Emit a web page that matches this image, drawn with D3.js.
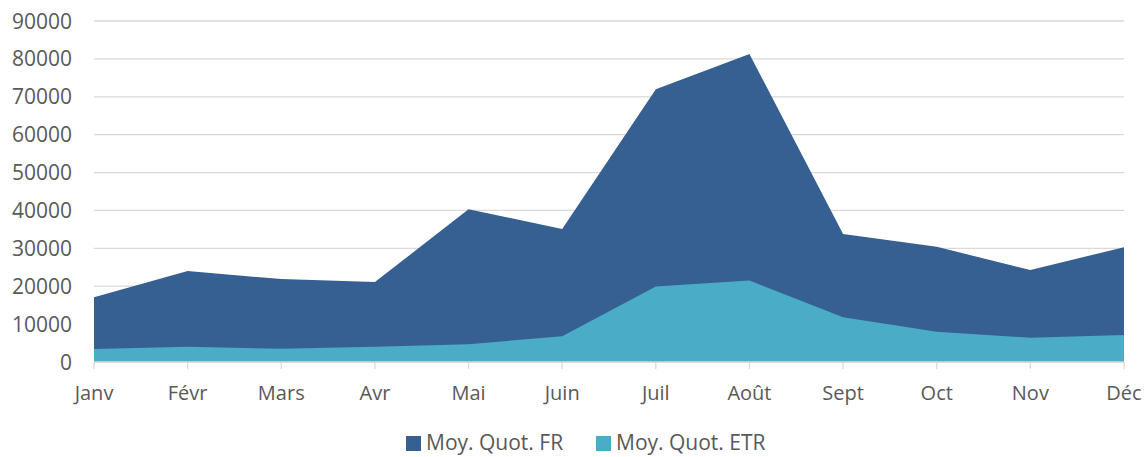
<!DOCTYPE html>
<html>
<head>
<meta charset="utf-8">
<script src="https://cdn.jsdelivr.net/npm/d3@7"></script>
<style>
  body { margin: 0; background: #fff; }
  text { font-family: "Open Sans", sans-serif; fill: #595959; }
</style>
</head>
<body>
<div id="chart"></div>
<script>
// Data
var months = ['Janv', 'Févr', 'Mars', 'Avr', 'Mai', 'Juin', 'Juil', 'Août', 'Sept', 'Oct', 'Nov', 'Déc'];
var moyFR  = [17100, 24000, 21900, 21100, 40300, 35100, 72000, 81300, 33800, 30400, 24300, 30300];
var moyETR = [3400, 4000, 3500, 4000, 4700, 6800, 19900, 21500, 11800, 8000, 6400, 7100];
var yTicks = [0, 10000, 20000, 30000, 40000, 50000, 60000, 70000, 80000, 90000];
var seriesNames = ['Moy. Quot. FR', 'Moy. Quot. ETR'];

(function() {
    var width = 1148,
        height = 457,
        plotLeft = 94,
        plotRight = 1124,
        plotTop = 21,
        plotBottom = 362;

    var colors = ['#366092', '#4AACC6'];

    var svg = d3.select('#chart')
        .append('svg')
        .attr('width', width)
        .attr('height', height);

    var x = d3.scalePoint()
        .domain(months)
        .range([plotLeft, plotRight])
        .padding(0);

    var y = d3.scaleLinear()
        .domain([0, 90000])
        .range([plotBottom, plotTop]);

    // Gridlines
    svg.append('g')
        .selectAll('line')
        .data(yTicks)
        .enter()
        .append('line')
        .attr('x1', plotLeft)
        .attr('x2', plotRight)
        .attr('y1', function(d) { return y(d); })
        .attr('y2', function(d) { return y(d); })
        .attr('stroke', '#d9d9d9')
        .attr('stroke-width', 1.3);

    // Y labels
    svg.append('g')
        .selectAll('text')
        .data(yTicks)
        .enter()
        .append('text')
        .attr('x', 72)
        .attr('y', function(d) { return y(d); })
        .attr('dy', '0.36em')
        .attr('text-anchor', 'end')
        .style('font-size', '21px')
        .text(function(d) { return d; });

    // Areas (FR behind, ETR in front)
    var area = d3.area()
        .x(function(d, j) { return x(months[j]); })
        .y0(y(0))
        .y1(function(d) { return y(d); });

    [moyFR, moyETR].forEach(function(vals, i) {
        svg.append('path')
            .datum(vals)
            .attr('d', area)
            .attr('fill', colors[i]);
    });

    // X axis line + ticks
    svg.append('line')
        .attr('x1', plotLeft)
        .attr('x2', plotRight)
        .attr('y1', y(0))
        .attr('y2', y(0))
        .attr('stroke', '#d9d9d9')
        .attr('stroke-width', 1.3);

    svg.append('g')
        .selectAll('line')
        .data(months)
        .enter()
        .append('line')
        .attr('x1', function(d) { return x(d); })
        .attr('x2', function(d) { return x(d); })
        .attr('y1', y(0))
        .attr('y2', y(0) + 7)
        .attr('stroke', '#d9d9d9')
        .attr('stroke-width', 1.3);

    svg.append('g')
        .selectAll('text')
        .data(months)
        .enter()
        .append('text')
        .attr('x', function(d) { return x(d); })
        .attr('y', 400)
        .attr('text-anchor', 'middle')
        .style('font-size', '20px')
        .text(function(d) { return d; });

    // Legend
    var legendX = [406, 596];
    var legend = svg.append('g')
        .selectAll('g')
        .data(seriesNames)
        .enter()
        .append('g')
        .attr('transform', function(d, i) { return 'translate(' + legendX[i] + ',436)'; });

    legend.append('rect')
        .attr('width', 15)
        .attr('height', 15)
        .attr('fill', function(d, i) { return colors[i]; });

    legend.append('text')
        .attr('x', 20)
        .attr('y', 14)
        .style('font-size', '21px')
        .text(function(d) { return d; });
})();
</script>
</body>
</html>
